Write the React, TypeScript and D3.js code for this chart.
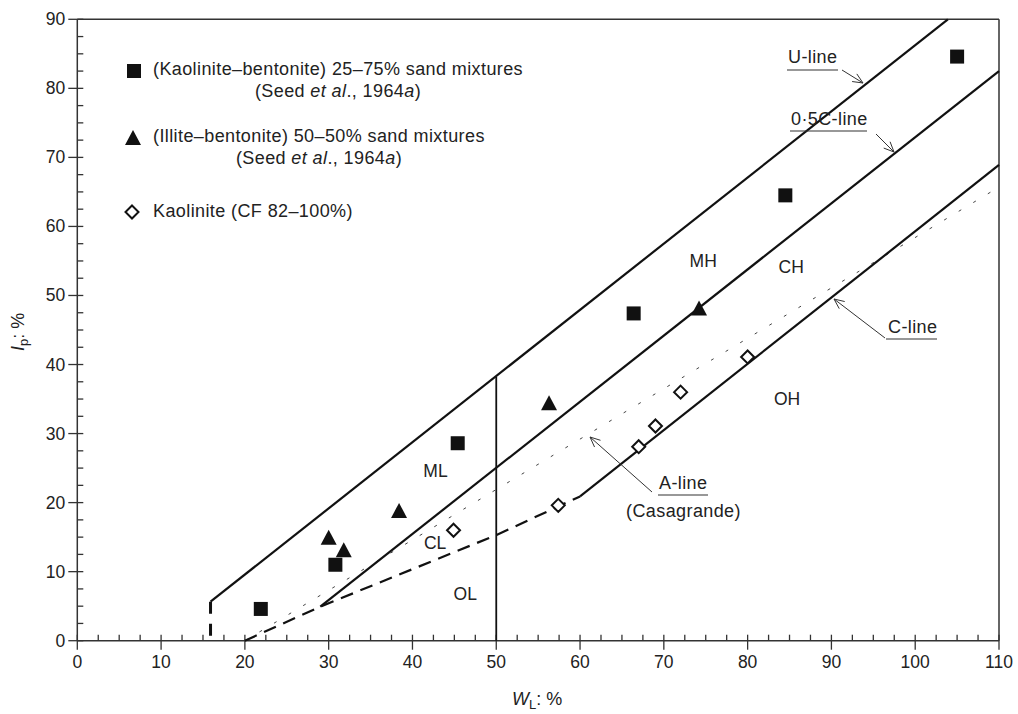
import React from 'react';
import * as d3 from 'd3';

const W = 1018;
const H = 714;

const xDomain: [number, number] = [0, 110];
const yDomain: [number, number] = [0, 90];
const xMajorTicks = d3.range(0, 111, 10);
const yMajorTicks = d3.range(0, 91, 10);
const xMinorTicks = d3.range(0, 110.01, 2.5).filter((v) => v % 10 !== 0);
const yMinorTicks = d3.range(0, 90.01, 2.5).filter((v) => v % 10 !== 0);

// data series: [wL, Ip]
const kaoliniteBentonite: [number, number][] = [
  [21.9, 4.6], [30.8, 11.0], [45.4, 28.6], [66.4, 47.4], [84.5, 64.5], [105.0, 84.6],
];
const illiteBentonite: [number, number][] = [
  [30.0, 14.9], [31.8, 13.1], [38.4, 18.8], [56.3, 34.4], [74.2, 48.1],
];
const kaolinite: [number, number][] = [
  [44.9, 16.0], [57.4, 19.6], [67.0, 28.1], [69.0, 31.1], [72.0, 36.0], [80.0, 41.1],
];

// reference lines
const uLine: [number, number][] = [[15.9, 5.65], [103.9, 90]];
const uLineBase: [number, number][] = [[15.9, 5.65], [15.9, -0.6]];
const halfCLine: [number, number][] = [[29, 4.93], [110, 82.5]];
const cLine: [number, number][] = [[60, 20.9], [110, 68.9]];
const cLineDashed: [number, number][] = [[20, 0], [29, 4.93], [50, 15.3], [60, 20.9]];
const aLine: [number, number][] = [[20, 0], [110, 65.7]];
const wL50Line: [number, number][] = [[50, 0], [50, 38.2]];

const regionLabels = [
  { t: 'MH', x: 74.7, y: 54.1 },
  { t: 'CH', x: 85.2, y: 53.3 },
  { t: 'ML', x: 42.75, y: 23.7 },
  { t: 'CL', x: 42.7, y: 13.3 },
  { t: 'OL', x: 46.3, y: 5.9 },
  { t: 'OH', x: 84.7, y: 34.1 },
];

const legendItems = [
  { marker: 'square', l1: '(Kaolinite\u2013bentonite) 25\u201375% sand mixtures', l2: true },
  { marker: 'triangle', l1: '(Illite\u2013bentonite) 50\u201350% sand mixtures', l2: true },
  { marker: 'diamond', l1: 'Kaolinite (CF 82\u2013100%)', l2: false },
];

const FONT = "'Liberation Sans', Arial, sans-serif";
const TXT = '#222';
const LS = 0.4;

export default function App() {
  const x = d3.scaleLinear().domain(xDomain).range([77.3, 999]);
  const y = d3.scaleLinear().domain(yDomain).range([640.7, 19.3]);
  const line = d3.line<[number, number]>().x((d) => x(d[0])).y((d) => y(d[1]));

  const x0 = x(0), x1 = x(110), y0 = y(0), y1 = y(90);

  const square = (cx: number, cy: number, s = 14, key?: any) => (
    <rect key={key} x={cx - s / 2} y={cy - s / 2} width={s} height={s} fill="#111" />
  );
  const triangle = (cx: number, cy: number, key?: any) => (
    <path key={key} d={`M${cx},${cy - 8} L${cx + 8},${cy + 7} L${cx - 8},${cy + 7} Z`} fill="#111" />
  );
  const diamond = (cx: number, cy: number, key?: any) => (
    <path key={key} d={`M${cx},${cy - 6.5} L${cx + 6.5},${cy} L${cx},${cy + 6.5} L${cx - 6.5},${cy} Z`}
      fill="#fff" stroke="#111" strokeWidth={2} />
  );

  const arrow = (xa: number, ya: number, xb: number, yb: number, key: string) => {
    const ang = Math.atan2(yb - ya, xb - xa);
    const L = 11, a = 0.42;
    const p1 = [xb - L * Math.cos(ang - a), yb - L * Math.sin(ang - a)];
    const p2 = [xb - L * Math.cos(ang + a), yb - L * Math.sin(ang + a)];
    return (
      <g key={key} stroke="#333" strokeWidth={1} fill="none">
        <line x1={xa} y1={ya} x2={xb} y2={yb} />
        <polyline points={`${p1[0]},${p1[1]} ${xb},${yb} ${p2[0]},${p2[1]}`} />
      </g>
    );
  };

  return (
    <svg width={W} height={H} style={{ position: 'absolute', left: 0, top: 0, background: '#fff' }}
      fontFamily={FONT}>
      <rect x={0} y={0} width={W} height={H} fill="#fff" />

      {/* frame */}
      <g stroke="#333" strokeWidth={1.5} fill="none">
        <line x1={x0} y1={y1} x2={x1} y2={y1} />
        <line x1={x1} y1={y1} x2={x1} y2={y0} />
        <line x1={x0} y1={y0} x2={x1} y2={y0} />
        <line x1={x0} y1={y1} x2={x0} y2={y0} />
      </g>

      {/* ticks */}
      <g stroke="#333" strokeWidth={1.3}>
        {xMajorTicks.map((v) => <line key={'xm' + v} x1={x(v)} x2={x(v)} y1={y0 - 6} y2={y0 + 9} />)}
        {xMinorTicks.map((v) => <line key={'xn' + v} x1={x(v)} x2={x(v)} y1={y0 - 6} y2={y0} />)}
        {yMajorTicks.map((v) => <line key={'ym' + v} x1={x0 - 9} x2={x0 + 6} y1={y(v)} y2={y(v)} />)}
        {yMinorTicks.map((v) => <line key={'yn' + v} x1={x0} x2={x0 + 6} y1={y(v)} y2={y(v)} />)}
      </g>
      <g fill={TXT} fontSize={17.5}>
        {xMajorTicks.map((v) => (
          <text key={'xl' + v} x={x(v)} y={y0 + 27} textAnchor="middle">{v}</text>
        ))}
        {yMajorTicks.map((v) => (
          <text key={'yl' + v} x={x0 - 12} y={y(v) + 6} textAnchor="end">{v}</text>
        ))}
      </g>

      {/* axis titles */}
      <text x={512} y={705} fontSize={18} fill={TXT}>
        <tspan fontStyle="italic">W</tspan>
        <tspan fontSize={13} dy={4}>L</tspan>
        <tspan dy={-4}>: %</tspan>
      </text>
      <text transform="translate(24,351) rotate(-90)" fontSize={18} fill={TXT}>
        <tspan fontStyle="italic">I</tspan>
        <tspan fontSize={13} dy={4}>p</tspan>
        <tspan dy={-4}>: %</tspan>
      </text>

      {/* reference lines */}
      <path d={line(aLine) || ''} stroke="#444" strokeWidth={1} fill="none" strokeDasharray="3,14" />
      <g stroke="#111" fill="none" strokeWidth={2.2}>
        <path d={line(uLine) || ''} />
        <path d={line(halfCLine) || ''} />
        <path d={line(cLine) || ''} />
        <path d={line(wL50Line) || ''} strokeWidth={1.8} />
        <path d={line(cLineDashed) || ''} strokeDasharray="13,8" />
        <path d={line(uLineBase) || ''} strokeWidth={3} strokeDasharray="12,10" />
      </g>

      {/* data */}
      <g>
        {kaoliniteBentonite.map((d, i) => square(x(d[0]), y(d[1]), 14, 'kb' + i))}
        {illiteBentonite.map((d, i) => triangle(x(d[0]), y(d[1]), 'ib' + i))}
        {kaolinite.map((d, i) => diamond(x(d[0]), y(d[1]), 'k' + i))}
      </g>

      {/* region labels */}
      <g fontSize={17.5} fill={TXT} textAnchor="middle">
        {regionLabels.map((r) => (
          <text key={r.t} x={x(r.x)} y={y(r.y)}>{r.t}</text>
        ))}
      </g>

      {/* legend */}
      <g fontSize={18} fill={TXT} letterSpacing={LS}>
        {legendItems.map((it, i) => {
          const rowY = [71, 138, 212][i];
          const mx = 134;
          const m = it.marker === 'square' ? square(mx, rowY, 14, 'lm' + i)
            : it.marker === 'triangle' ? triangle(mx - 1, rowY, 'lm' + i)
              : diamond(mx - 2, rowY, 'lm' + i);
          const cx = i === 0 ? 338 : 319;
          return (
            <g key={'leg' + i}>
              {m}
              <text x={153} y={rowY + 4 + (i === 2 ? 1 : 0)}>{it.l1}</text>
              {it.l2 && (
                <text x={cx} y={rowY + 26} textAnchor="middle">
                  <tspan>(Seed </tspan>
                  <tspan fontStyle="italic">et al</tspan>
                  <tspan>., 1964</tspan>
                  <tspan fontStyle="italic">a</tspan>
                  <tspan>)</tspan>
                </text>
              )}
            </g>
          );
        })}
      </g>

      {/* line annotations */}
      <g fontSize={18} fill={TXT} letterSpacing={LS}>
        <text x={788} y={63}>U-line</text>
        <line x1={787} x2={838} y1={70} y2={70} stroke="#333" strokeWidth={1.2} />
        <text x={791} y={125}>0·5C-line</text>
        <line x1={790} x2={867} y1={131} y2={131} stroke="#333" strokeWidth={1.2} />
        <text x={888} y={333}>C-line</text>
        <line x1={886} x2={937} y1={339} y2={339} stroke="#333" strokeWidth={1.2} />
        <text x={659} y={489}>A-line</text>
        <line x1={658} x2={708} y1={495} y2={495} stroke="#333" strokeWidth={1.2} />
        <text x={683.5} y={517} textAnchor="middle">(Casagrande)</text>
      </g>
      {arrow(842, 70, 863, 83, 'a1')}
      {arrow(876, 134, 894, 152, 'a2')}
      {arrow(885, 338, 834, 299, 'a3')}
      {arrow(652, 492, 590, 437, 'a4')}
    </svg>
  );
}
